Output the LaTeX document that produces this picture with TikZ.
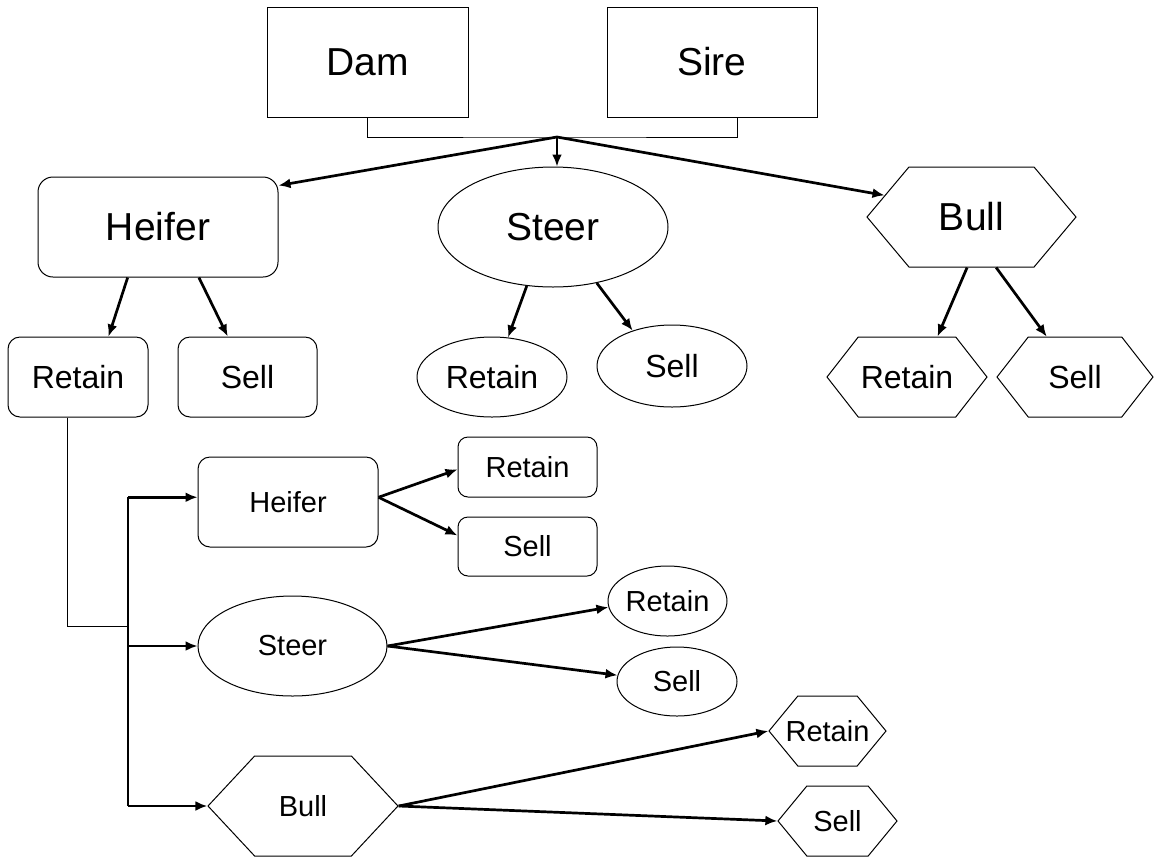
\documentclass[tikz,border=0pt]{standalone}
\usepackage{fontspec}
\setmainfont{Liberation Sans}
\usetikzlibrary{positioning, arrows.meta, shapes.geometric, shapes.symbols}

\tikzset{
  thinline/.style={line width=0.5pt},
  arr/.style={line width=1.35pt, -{Latex[length=6pt,width=5pt]}},
  big/.style={font=\fontsize{19.5}{22}\selectfont},
  mid/.style={font=\fontsize{16}{18}\selectfont},
  small/.style={font=\fontsize{14.5}{16}\selectfont},
  plainbox/.style={draw, thinline, rectangle, inner sep=0pt},
  rbox/.style={draw, thinline, rectangle, rounded corners=#1, inner sep=0pt},
  oval/.style={draw, thinline, ellipse, inner sep=0pt},
  hexa/.style={draw, thinline, signal, signal to=east and west,
    signal pointer angle=#1, inner ysep=0pt, inner xsep=-15pt}
}

\begin{document}
\begin{tikzpicture}[x=0.5pt, y=-0.5pt]
  \useasboundingbox (0,0) rectangle (1157,858);

  % parents
  \node[plainbox, big, minimum width=100.5pt, minimum height=55pt] (dam) at (367.5,62) {Dam};
  \node[plainbox, big, minimum width=105pt, minimum height=55pt] (sire) at (712,62) {Sire};
  \coordinate (join) at (557,137);
  \draw[thinline] (dam.south) |- (join) -| (sire.-65.6);

  % first calf
  \node[rbox=7.5pt, big, minimum width=120pt, minimum height=50pt] (heifer) at (158,227) {Heifer};
  \node[oval, big, minimum width=115pt, minimum height=60pt] (steer) at (553,227) {Steer};
  \node[hexa=100, big, minimum width=104.5pt, minimum height=50pt] (bull) at (971.5,217) {Bull};
  \path[arr] (join) edge (heifer.19.3) edge (join |- steer.north) edge (bull.166.5);

  \node[rbox=6pt, mid, minimum width=70pt, minimum height=40pt] (hret) at (78,377) {Retain};
  \node[rbox=6pt, mid, minimum width=69.5pt, minimum height=40pt] (hsell) at (247.5,377) {Sell};
  \node[oval, mid, minimum width=75pt, minimum height=40pt] (sret) at (492,377) {Retain};
  \node[oval, mid, minimum width=75pt, minimum height=41pt] (ssell) at (672,366) {Sell};
  \node[hexa=104, mid, minimum width=80pt, minimum height=40pt] (bret) at (907,377) {Retain};
  \node[hexa=104, mid, minimum width=78pt, minimum height=40pt] (bsell) at (1075,377) {Sell};
  \path[arr]
    (heifer.-121) edge (hret.53.1)
    (heifer.-51.3) edge (hsell.116)
    (steer.-114.6) edge (sret.68.2)
    (steer.-52) edge (ssell.138.5)
    (bull.-95) edge (bret.53)
    (bull.-64) edge (bsell.125);

  % second calf, after retaining the heifer
  \node[rbox=6pt, small, minimum width=90pt, minimum height=45pt] (lheifer) at (288,502) {Heifer};
  \node[rbox=5pt, small, minimum width=69.5pt, minimum height=30pt] (lhret) at (527.5,467) {Retain};
  \node[rbox=5pt, small, minimum width=69.5pt, minimum height=29.5pt] (lhsell) at (527.5,546.5) {Sell};
  \node[oval, small, minimum width=94.5pt, minimum height=50pt] (lsteer) at (292.5,646) {Steer};
  \node[oval, small, minimum width=59.5pt, minimum height=35pt] (lsret) at (667.5,601) {Retain};
  \node[oval, small, minimum width=60pt, minimum height=34.5pt] (lssell) at (677,681.5) {Sell};
  \node[hexa=94, small, minimum width=95pt, minimum height=50pt] (lbull) at (303,806) {Bull};
  \node[hexa=101, small, minimum width=58.5pt, minimum height=35pt] (lbret) at (827.5,731) {Retain};
  \node[hexa=101, small, minimum width=59.5pt, minimum height=35pt] (lbsell) at (837.5,821) {Sell};

  \coordinate (trunk) at (128,626);
  \draw[thinline] (hret.-104) |- (trunk);
  \draw[line width=0.7pt] (trunk |- lheifer.177) -- (trunk |- lbull.west);
  \draw[arr] (trunk |- lheifer.177) -- (lheifer.177);
  \draw[arr] (trunk |- lsteer.west) -- (lsteer.west);
  \draw[arr] (trunk |- lbull.west) -- (lbull.west);
  \path[arr]
    (lheifer.3.5) edge (lhret.182) edge (lhsell.171.4)
    (lsteer.east) edge (lsret.186.7) edge (lssell.174.8)
    (lbull.east) edge (lbret.west) edge (lbsell.west);
\end{tikzpicture}
\end{document}
